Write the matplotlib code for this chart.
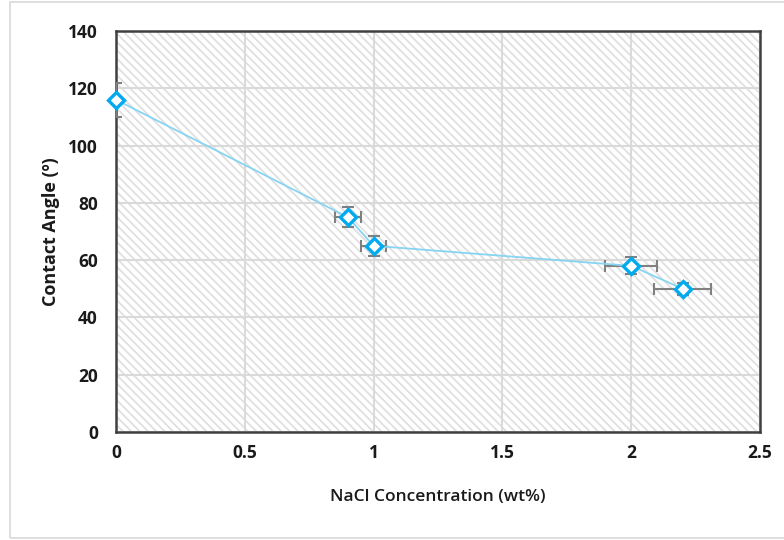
import matplotlib
matplotlib.use('Agg')
import matplotlib.pyplot as plt
from matplotlib.patches import Rectangle

# --- Data ---
nacl = [0, 0.9, 1.0, 2.0, 2.2]
angle = [116, 75, 65, 58, 50]
angle_err = [6, 3.5, 3.5, 3, 2]
nacl_err = [0, 0.05, 0.05, 0.1, 0.11]

x_ticks = [0, 0.5, 1, 1.5, 2, 2.5]
x_ticklabels = ["0", "0.5", "1", "1.5", "2", "2.5"]
y_ticks = [0, 20, 40, 60, 80, 100, 120, 140]

# --- Style ---
plt.rcParams.update({
    "font.family": ["Open Sans", "DejaVu Sans"],
    "hatch.linewidth": 1.3,
    "hatch.color": "#e0e0e0",
})

fig = plt.figure(figsize=(7.84, 5.40), dpi=100)
ax = fig.add_axes([116 / 784, 1 - 432 / 540, (760 - 116) / 784, (432 - 31) / 540])

# outer chart border
fig.patches.append(Rectangle((10 / 784, 2 / 540), 1.0, 536 / 540, transform=fig.transFigure,
                             fill=False, edgecolor="#d9d9d9", lw=1.2))

# hatched plot area
ax.add_patch(Rectangle((0, 0), 1, 1, transform=ax.transAxes, facecolor="white",
                       edgecolor="#e0e0e0", hatch="\\\\\\\\", lw=0, zorder=0))

ax.set_xlim(0, 2.5)
ax.set_ylim(0, 140)
ax.set_xticks(x_ticks)
ax.set_xticklabels(x_ticklabels)
ax.set_yticks(y_ticks)
ax.grid(True, color="#dadada", lw=1.5, zorder=1)
ax.set_axisbelow(True)

for sp in ax.spines.values():
    sp.set_color("#404040")
    sp.set_linewidth(1.8)

ax.tick_params(axis="both", length=0, labelsize=12.5, colors="#1a1a1a")
ax.tick_params(axis="y", pad=13)
ax.tick_params(axis="x", pad=9)
for lbl in ax.get_xticklabels() + ax.get_yticklabels():
    lbl.set_fontweight("bold")

ax.errorbar(nacl, angle, yerr=angle_err, xerr=nacl_err, fmt="none",
            ecolor="#808080", elinewidth=1.5, capsize=4, capthick=1.5, zorder=3)
ax.plot(nacl, angle, color="#86d4f2", lw=1.3, zorder=4)
ax.plot(nacl, angle, linestyle="none", marker="D", markersize=8,
        markerfacecolor="white", markeredgecolor="#00aaee", markeredgewidth=2.4,
        zorder=5, clip_on=False)

ax.set_xlabel("NaCl Concentration (wt%)", fontsize=12.5, fontweight="semibold",
              color="#1a1a1a", labelpad=19)
ax.set_ylabel("Contact Angle (º)", fontsize=13, fontweight="bold", color="#1a1a1a", labelpad=6)

fig.savefig("out.png", dpi=100, facecolor="white")
